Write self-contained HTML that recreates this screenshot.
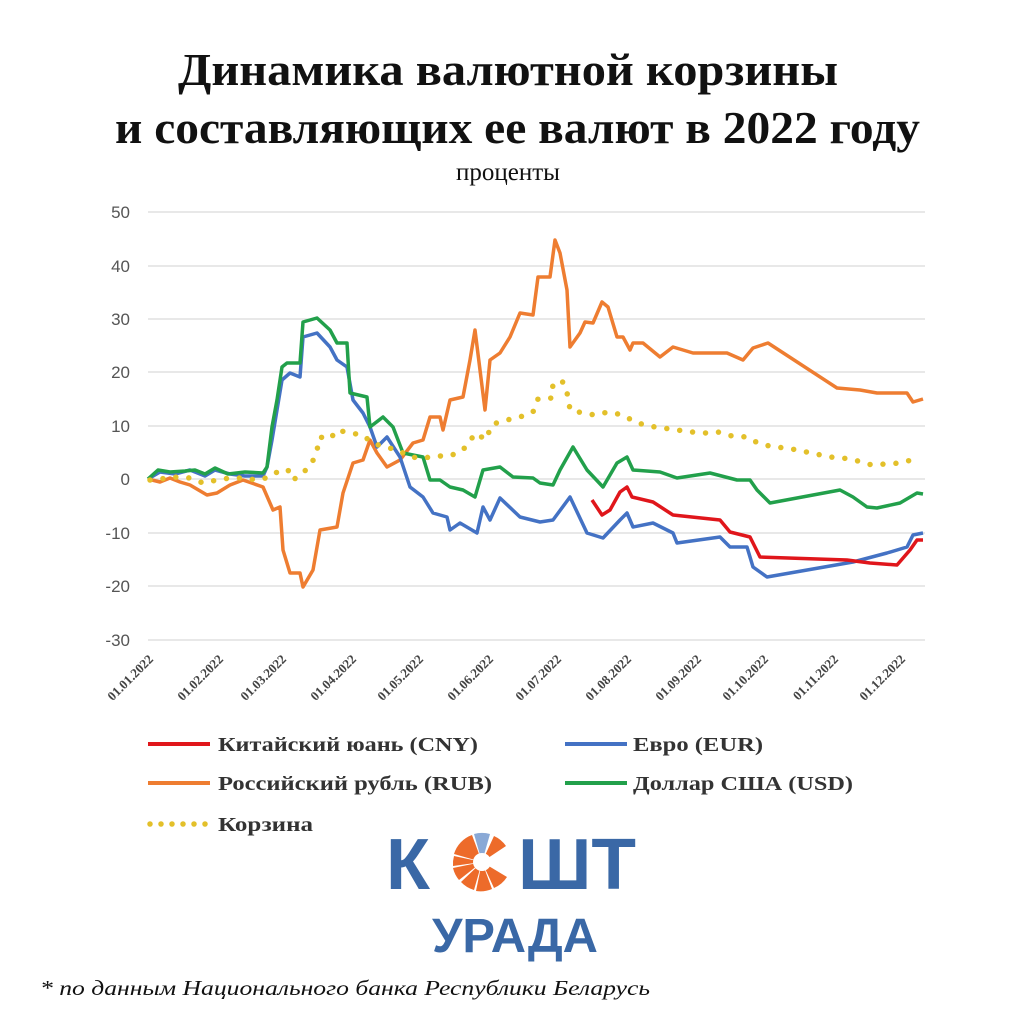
<!DOCTYPE html>
<html><head><meta charset="utf-8"><style>
body{margin:0;background:#fff;}
svg{display:block}
</style></head><body>
<svg width="1028" height="1024" xmlns="http://www.w3.org/2000/svg">
<rect width="1028" height="1024" fill="#fff"/>
<g font-family="Liberation Serif, serif" font-weight="bold" font-size="46" fill="#111">
<text x="178" y="85" textLength="660" lengthAdjust="spacingAndGlyphs">Динамика валютной корзины</text>
<text x="115" y="143" textLength="805" lengthAdjust="spacingAndGlyphs">и составляющих ее валют в 2022 году</text>
</g>
<text x="508" y="180" font-family="Liberation Serif, serif" font-size="25" text-anchor="middle" fill="#111">проценты</text>
<g stroke="#d9d9d9" stroke-width="1.3">
<line x1="148" x2="925" y1="212" y2="212"/><line x1="148" x2="925" y1="266" y2="266"/>
<line x1="148" x2="925" y1="319" y2="319"/><line x1="148" x2="925" y1="372" y2="372"/>
<line x1="148" x2="925" y1="426" y2="426"/><line x1="148" x2="925" y1="479" y2="479"/>
<line x1="148" x2="925" y1="533" y2="533"/><line x1="148" x2="925" y1="586" y2="586"/>
<line x1="148" x2="925" y1="640" y2="640"/>
</g>
<g font-family="Liberation Sans, sans-serif" font-size="17" fill="#555" text-anchor="end">
<text x="130" y="218">50</text><text x="130" y="272">40</text><text x="130" y="325">30</text>
<text x="130" y="378">20</text><text x="130" y="432">10</text><text x="130" y="485">0</text>
<text x="130" y="539">-10</text><text x="130" y="592">-20</text><text x="130" y="646">-30</text>
</g>
<g font-family="Liberation Serif, serif" font-weight="bold" font-size="13" fill="#444" text-anchor="end">
<text transform="translate(154,660) rotate(-45)">01.01.2022</text>
<text transform="translate(224,660) rotate(-45)">01.02.2022</text>
<text transform="translate(287,660) rotate(-45)">01.03.2022</text>
<text transform="translate(357,660) rotate(-45)">01.04.2022</text>
<text transform="translate(424,660) rotate(-45)">01.05.2022</text>
<text transform="translate(494,660) rotate(-45)">01.06.2022</text>
<text transform="translate(562,660) rotate(-45)">01.07.2022</text>
<text transform="translate(632,660) rotate(-45)">01.08.2022</text>
<text transform="translate(702,660) rotate(-45)">01.09.2022</text>
<text transform="translate(769,660) rotate(-45)">01.10.2022</text>
<text transform="translate(839,660) rotate(-45)">01.11.2022</text>
<text transform="translate(906,660) rotate(-45)">01.12.2022</text>
</g>
<g fill="none" stroke-width="3.5" stroke-linejoin="round">
<polyline stroke="#ee7d31" points="148,479 160,482 170,478 180,482 190,485 207,495 217,493 230,485 243,480 263,487 273,510 280,507 283,550 290,573 300,573 303,587 313,570 320,530 337,527 343,493 353,463 363,460 370,440 377,453 387,467 400,460 413,443 423,440 430,417 440,417 443,430 450,400 463,397 470,360 475,330 480,370 485,410 490,360 500,353 510,337 520,313 533,315 538,277 550,277 555,240 560,253 567,290 570,347 580,333 585,322 593,323 602,302 608,307 617,337 623,337 630,350 633,343 643,343 660,357 673,347 693,353 727,353 743,360 753,348 768,343 837,388 860,390 877,393 907,393 913,402 923,399"/>
<polyline stroke="#4472c4" points="148,479 160,472 175,474 190,470 205,476 215,470 230,474 245,476 263,476 267,467 272,440 277,410 282,380 290,373 300,377 303,337 317,333 330,347 337,360 347,367 353,400 363,413 370,427 377,447 387,437 400,457 410,487 423,497 433,513 447,517 450,530 460,523 477,533 483,507 490,520 500,498 520,517 540,522 553,520 570,497 587,533 603,538 620,520 627,513 633,527 653,523 673,533 677,543 720,537 730,547 747,547 753,567 767,577 853,562 887,553 907,547 913,535 923,533"/>
<polyline stroke="#22a04b" points="148,479 158,470 170,472 185,471 195,470 205,474 215,468 228,474 245,472 263,473 267,467 272,427 277,400 282,367 287,363 300,363 303,322 317,318 330,330 337,343 347,343 350,393 367,397 370,427 383,417 393,427 403,453 423,457 430,480 440,480 450,487 463,490 475,497 483,470 500,467 513,477 533,478 540,483 553,485 560,470 573,447 587,470 603,487 617,463 627,457 633,470 660,472 677,478 710,473 737,480 750,480 757,490 770,503 840,490 853,497 867,507 877,508 900,503 917,493 923,494"/>
<polyline stroke="#e0161b" points="592,500 602,515 610,510 620,492 627,487 632,497 653,502 673,515 720,520 730,532 750,537 760,557 847,560 870,563 897,565 910,550 917,540 923,540"/>
<polyline stroke="#e3c02a" stroke-width="5.5" stroke-linecap="round" stroke-dasharray="0 13" points="150,480 177,477 190,478 203,483 217,480 230,478 243,478 257,480 270,477 280,470 288,470 293,480 303,473 312,463 317,450 320,437 330,439 337,430 350,433 363,435 372,443 385,447 398,450 410,457 423,458 438,456 450,456 463,450 470,440 477,433 485,440 493,424 507,420 520,417 533,412 538,399 552,398 553,383 563,382 568,396 570,410 583,413 595,415 608,412 623,415 635,422 648,426 663,428 677,430 692,432 705,433 718,432 732,436 747,437 758,443 773,447 787,448 802,451 816,454 830,457 843,458 858,461 872,465 885,464 900,463 915,459"/>
</g>
<g stroke-width="4" fill="none">
<line x1="148" x2="210" y1="744" y2="744" stroke="#e0161b"/>
<line x1="565" x2="627" y1="744" y2="744" stroke="#4472c4"/>
<line x1="148" x2="210" y1="783" y2="783" stroke="#ee7d31"/>
<line x1="565" x2="627" y1="783" y2="783" stroke="#22a04b"/>
<line x1="150" x2="210" y1="824" y2="824" stroke="#e3c02a" stroke-width="5.5" stroke-linecap="round" stroke-dasharray="0 11"/>
</g>
<g font-family="Liberation Serif, serif" font-weight="bold" font-size="20" fill="#333">
<text x="218" y="751" textLength="260" lengthAdjust="spacingAndGlyphs">Китайский юань (CNY)</text>
<text x="633" y="751" textLength="130" lengthAdjust="spacingAndGlyphs">Евро (EUR)</text>
<text x="218" y="790" textLength="274" lengthAdjust="spacingAndGlyphs">Российский рубль (RUB)</text>
<text x="633" y="790" textLength="220" lengthAdjust="spacingAndGlyphs">Доллар США (USD)</text>
<text x="218" y="831" textLength="95" lengthAdjust="spacingAndGlyphs">Корзина</text>
</g>
<g font-family="Liberation Sans, sans-serif" font-weight="bold" fill="#3a68a6">
<text x="386" y="889" font-size="72">К</text>
<text x="518" y="889" font-size="72" textLength="118" lengthAdjust="spacingAndGlyphs">ШТ</text>
<text x="432" y="952" font-size="48" textLength="166" lengthAdjust="spacingAndGlyphs">УРАДА</text>
</g>
<g transform="translate(482,862)">
<path d="M0,0 L-28,-8 A29,29 0 0 1 -10,-27 Z" fill="#ed6b2a"/>
<path d="M0,0 L-29,4 A29,29 0 0 1 -28,-6 Z" fill="#ed6b2a"/>
<path d="M0,0 L-23,18 A29,29 0 0 1 -29,6 Z" fill="#ed6b2a"/>
<path d="M0,0 L-8,28 A29,29 0 0 1 -21,20 Z" fill="#ed6b2a"/>
<path d="M0,0 L10,27 A29,29 0 0 1 -6,29 Z" fill="#ed6b2a"/>
<path d="M0,0 L25,15 A29,29 0 0 1 12,26 Z" fill="#ed6b2a"/>
<path d="M0,0 L-8,-28 A29,29 0 0 1 8,-28 Z" fill="#8aa9d6"/>
<path d="M0,0 L12,-26 A29,29 0 0 1 24,-16 Z" fill="#ed6b2a"/>
<circle r="9" fill="#fff"/>
</g>
<text x="40" y="995" font-family="Liberation Serif, serif" font-style="italic" font-size="21" fill="#111" textLength="610" lengthAdjust="spacingAndGlyphs">* по данным Национального банка Республики Беларусь</text>
</svg>
</body></html>
